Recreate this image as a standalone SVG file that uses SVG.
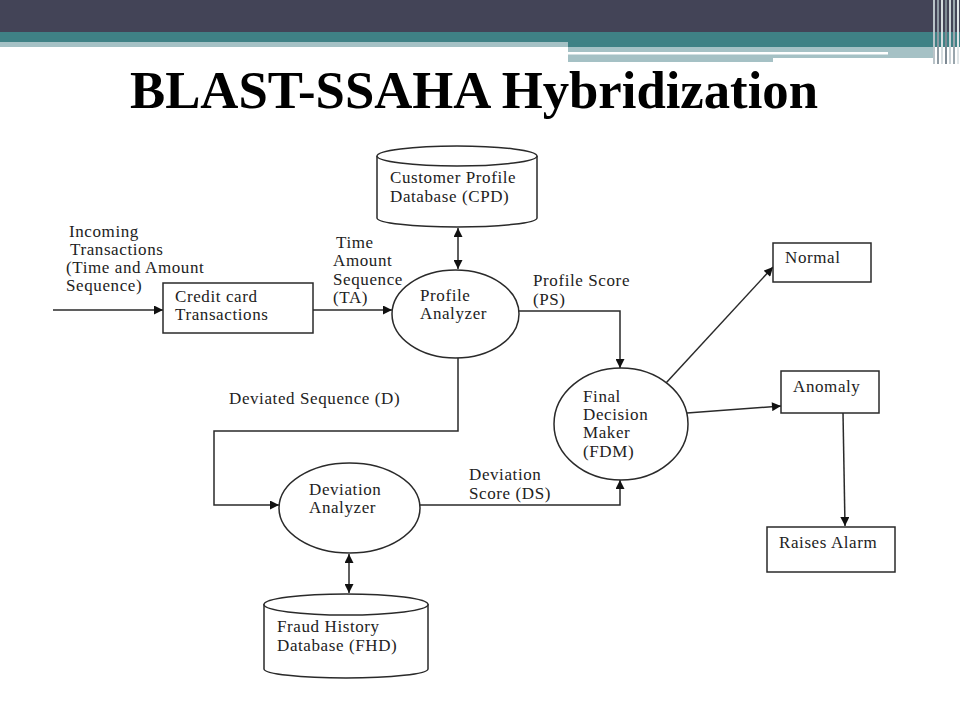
<svg xmlns="http://www.w3.org/2000/svg" width="960" height="720" viewBox="0 0 960 720">
<defs>
<marker id="ah" viewBox="0 0 10 10" refX="10" refY="5" markerWidth="10" markerHeight="9" markerUnits="userSpaceOnUse" orient="auto-start-reverse">
<path d="M0,0 L10,5 L0,10 Z" fill="#111"/>
</marker>
<style>
.t{font-family:'Liberation Serif','Times New Roman',serif;font-size:17px;letter-spacing:0.6px;fill:#222}
.s{fill:#fff;stroke:#2a2a2a;stroke-width:1.5}
.c{fill:none;stroke:#2a2a2a;stroke-width:1.5}
.a{marker-end:url(#ah)}
.b{marker-start:url(#ah);marker-end:url(#ah)}
</style>
</defs>
<rect width="960" height="720" fill="#fff"/>
<g id="header">
<rect x="0" y="0" width="960" height="32" fill="#434457"/>
<rect x="0" y="32" width="960" height="10" fill="#3f8185"/>
<rect x="0" y="42" width="568" height="5" fill="#a5c1c5"/>
<rect x="568" y="42" width="392" height="5" fill="#3f8185"/>
<rect x="568" y="47" width="205" height="15" fill="#a5c1c5"/>
<rect x="773" y="47" width="160" height="11" fill="#a5c1c5"/>
<rect x="568" y="52" width="320" height="2.5" fill="#fff"/>
<g stroke-width="2">
<line x1="934" y1="0" x2="934" y2="64" stroke="#b9c3c8"/>
<line x1="938" y1="0" x2="938" y2="64" stroke="#8f9ba3"/>
<line x1="942" y1="0" x2="942" y2="64" stroke="#d5dcdf"/>
<line x1="946" y1="0" x2="946" y2="64" stroke="#7e8a94"/>
<line x1="950" y1="0" x2="950" y2="64" stroke="#c9d1d5"/>
<line x1="954" y1="0" x2="954" y2="64" stroke="#9aa6ad"/>
<line x1="958" y1="0" x2="958" y2="64" stroke="#dfe5e7"/>
</g>
<text x="474" y="108" text-anchor="middle" textLength="688" lengthAdjust="spacingAndGlyphs" font-family="'Liberation Serif','Times New Roman',serif" font-weight="bold" font-size="53" fill="#000">BLAST-SSAHA Hybridization</text>
</g>
<g id="connectors">
<line class="c a" x1="53" y1="310" x2="163" y2="310"/>
<line class="c a" x1="313" y1="310" x2="392" y2="310"/>
<line class="c b" x1="458" y1="228" x2="458" y2="269"/>
<polyline class="c a" points="519,311 620,311 620,368"/>
<polyline class="c a" points="458,358 458,431 214,431 214,505 279,505"/>
<line class="c b" x1="349" y1="554" x2="349" y2="593"/>
<polyline class="c a" points="420,505 620,505 620,480"/>
<line class="c a" x1="666" y1="383" x2="773" y2="267"/>
<line class="c a" x1="687" y1="413" x2="781" y2="406"/>
<line class="c a" x1="843" y1="413" x2="845" y2="526"/>
<text class="t"><tspan x="69" y="237">Incoming</tspan><tspan x="70" y="255">Transactions</tspan><tspan x="66" y="273">(Time and Amount</tspan><tspan x="66" y="291">Sequence)</tspan></text>
<text class="t"><tspan x="336" y="248">Time</tspan><tspan x="333" y="266">Amount</tspan><tspan x="333" y="285">Sequence</tspan><tspan x="333" y="303">(TA)</tspan></text>
<text class="t"><tspan x="533" y="286">Profile Score</tspan><tspan x="533" y="305">(PS)</tspan></text>
<text class="t" x="229" y="404">Deviated Sequence (D)</text>
<text class="t"><tspan x="469" y="480">Deviation</tspan><tspan x="469" y="499">Score (DS)</tspan></text>
</g>
<g id="cpd">
<path class="s" d="M377,156 L377,218 A80,9 0 0 0 537,218 L537,156"/>
<ellipse class="s" cx="457" cy="156" rx="80" ry="10"/>
<text class="t"><tspan x="390" y="183">Customer Profile</tspan><tspan x="390" y="202">Database (CPD)</tspan></text>
</g>
<g id="credit-card">
<rect class="s" x="163" y="283" width="150" height="50"/>
<text class="t"><tspan x="175" y="302">Credit card</tspan><tspan x="175" y="320">Transactions</tspan></text>
</g>
<g id="profile-analyzer">
<ellipse class="s" cx="455.5" cy="314" rx="63.5" ry="44"/>
<text class="t"><tspan x="420" y="301">Profile</tspan><tspan x="420" y="319">Analyzer</tspan></text>
</g>
<g id="deviation-analyzer">
<ellipse class="s" cx="349.5" cy="508" rx="70.5" ry="45"/>
<text class="t"><tspan x="309" y="495">Deviation</tspan><tspan x="309" y="513">Analyzer</tspan></text>
</g>
<g id="fhd">
<path class="s" d="M264,604 L264,669 A82,9 0 0 0 428,669 L428,604"/>
<ellipse class="s" cx="346" cy="604.5" rx="82" ry="10.5"/>
<text class="t"><tspan x="277" y="632">Fraud History</tspan><tspan x="277" y="651">Database (FHD)</tspan></text>
</g>
<g id="fdm">
<ellipse class="s" cx="621" cy="424" rx="67" ry="56"/>
<text class="t"><tspan x="583" y="402">Final</tspan><tspan x="583" y="420">Decision</tspan><tspan x="583" y="438">Maker</tspan><tspan x="583" y="457">(FDM)</tspan></text>
</g>
<g id="normal">
<rect class="s" x="773" y="243" width="98" height="39"/>
<text class="t" x="785" y="263">Normal</text>
</g>
<g id="anomaly">
<rect class="s" x="781" y="371" width="98" height="42"/>
<text class="t" x="793" y="392">Anomaly</text>
</g>
<g id="raises-alarm">
<rect class="s" x="767" y="527" width="128" height="45"/>
<text class="t" x="779" y="548">Raises Alarm</text>
</g>
</svg>
